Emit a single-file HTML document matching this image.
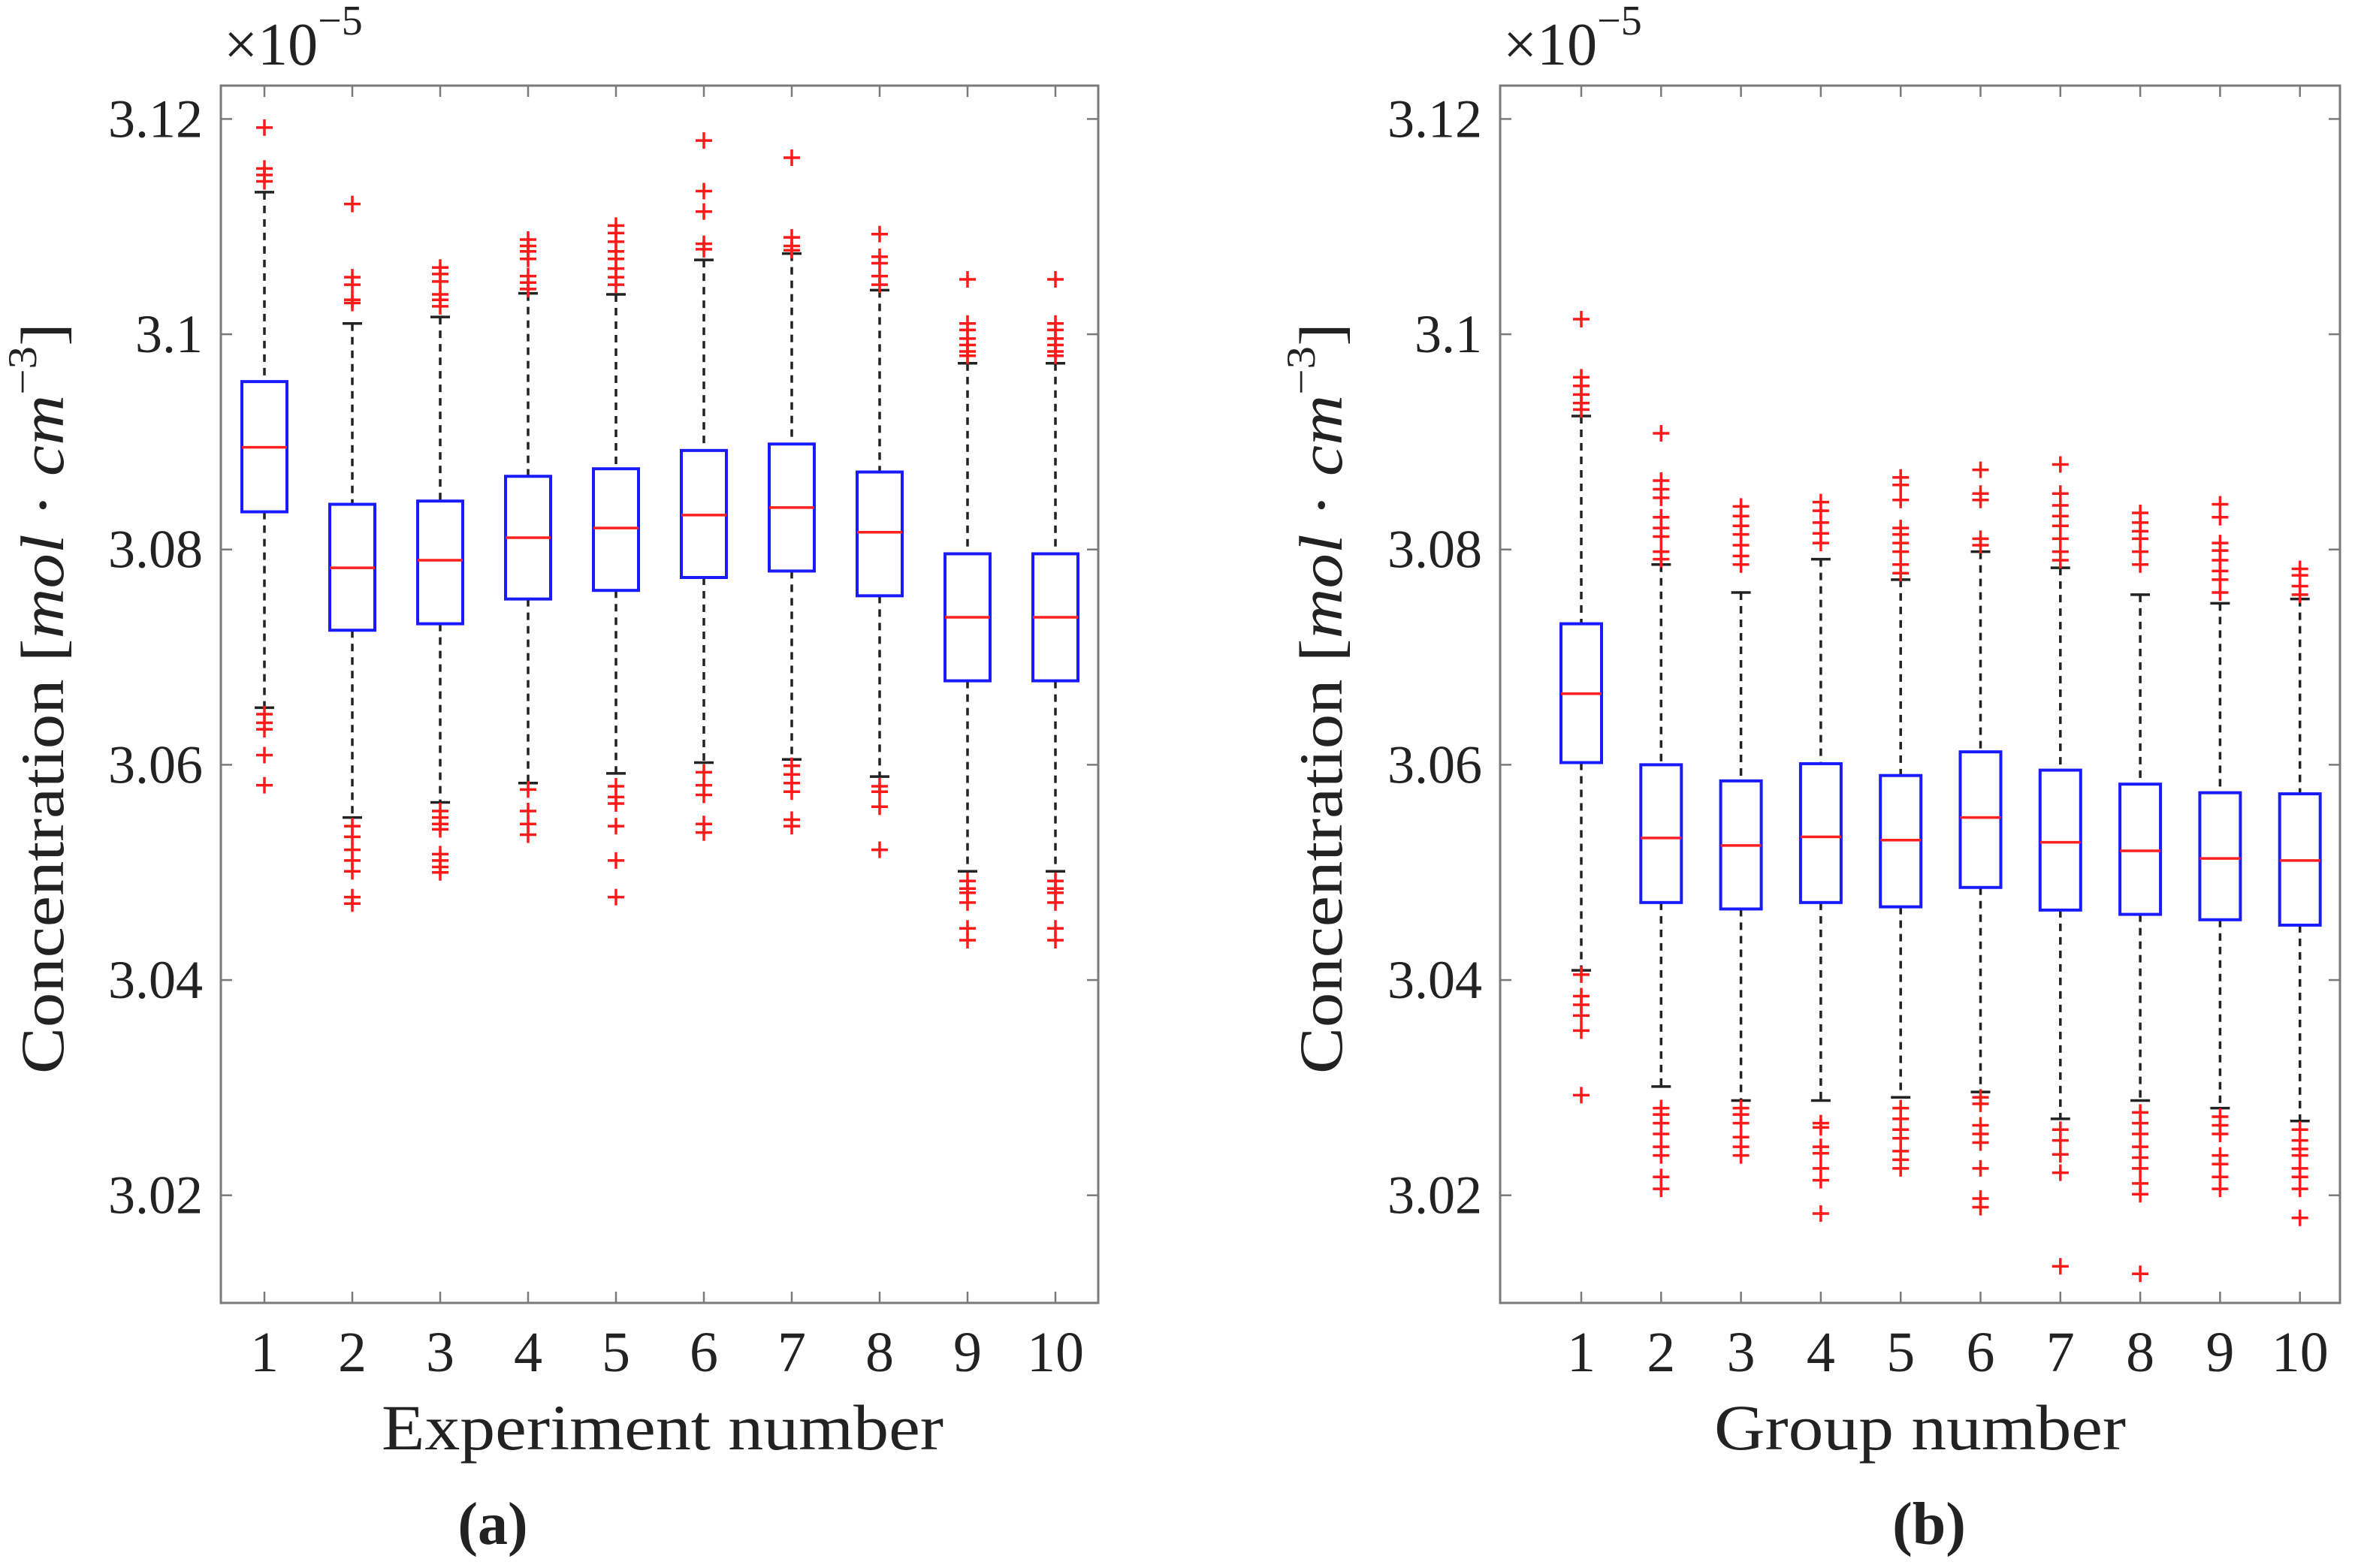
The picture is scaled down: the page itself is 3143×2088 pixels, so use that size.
<!DOCTYPE html>
<html><head><meta charset="utf-8"><style>
html,body{margin:0;padding:0;background:#fff}
svg{display:block}
text{font-family:"Liberation Serif","DejaVu Serif",serif;fill:#222}
</style></head><body>
<svg id="fig" width="3143" height="2088" viewBox="0 0 3143 2088" xmlns="http://www.w3.org/2000/svg" font-family="Liberation Serif, DejaVu Serif, serif">
<g id="pa"></g>
<g id="pb"></g>
</svg>
<script>
const categories=[1,2,3,4,5,6,7,8,9,10];
const yTicks=[3.02,3.04,3.06,3.08,3.1,3.12];
const yTickLabels=["3.02","3.04","3.06","3.08","3.1","3.12"];
// panel a (units 1e-5 mol/cm3)
const aWhiskerHigh=[3.1132,3.1010,3.1016,3.1038,3.1037,3.1069,3.1075,3.1041,3.0973,3.0973];
const aQ3=[3.0956,3.0842,3.0845,3.0868,3.0875,3.0892,3.0898,3.0872,3.0796,3.0796];
const aMedian=[3.0895,3.0783,3.0790,3.0811,3.0820,3.0832,3.0839,3.0816,3.0737,3.0737];
const aQ1=[3.0835,3.0725,3.0731,3.0754,3.0762,3.0774,3.0780,3.0757,3.0678,3.0678];
const aWhiskerLow=[3.0653,3.0551,3.0565,3.0583,3.0592,3.0602,3.0605,3.0589,3.0501,3.0501];
const aOutliers=[
[3.1192,3.1154,3.1148,3.1142,3.0647,3.0639,3.0633,3.0609,3.0581],
[3.1121,3.1053,3.1046,3.1032,3.1029,3.0543,3.0533,3.0521,3.0511,3.0501,3.0477,3.0471],
[3.1062,3.1056,3.1049,3.1037,3.1032,3.1026,3.0557,3.0551,3.0545,3.0540,3.0517,3.0511,3.0505,3.0500],
[3.1088,3.1082,3.1077,3.1070,3.1054,3.1048,3.1042,3.0577,3.0557,3.0545,3.0535],
[3.1101,3.1094,3.1086,3.1077,3.1070,3.1061,3.1053,3.1046,3.0580,3.0570,3.0564,3.0543,3.0511,3.0477],
[3.1180,3.1133,3.1114,3.1084,3.1079,3.0593,3.0581,3.0572,3.0545,3.0537],
[3.1164,3.1090,3.1082,3.1078,3.0599,3.0591,3.0583,3.0575,3.0549,3.0543],
[3.1093,3.1072,3.1066,3.1054,3.1046,3.0580,3.0575,3.0561,3.0521],
[3.1051,3.1010,3.1004,3.0996,3.0990,3.0984,3.0980,3.0492,3.0485,3.0481,3.0472,3.0448,3.0437],
[3.1051,3.1010,3.1004,3.0996,3.0990,3.0984,3.0980,3.0492,3.0485,3.0481,3.0472,3.0448,3.0437]];
// panel b
const bWhiskerHigh=[3.0924,3.0786,3.0760,3.0791,3.0772,3.0798,3.0783,3.0758,3.0750,3.0754];
const bQ3=[3.0731,3.0600,3.0585,3.0601,3.0590,3.0612,3.0595,3.0582,3.0574,3.0573];
const bMedian=[3.0666,3.0532,3.0525,3.0533,3.0530,3.0551,3.0528,3.0520,3.0513,3.0511];
const bQ1=[3.0602,3.0472,3.0466,3.0472,3.0468,3.0486,3.0465,3.0461,3.0456,3.0451];
const bWhiskerLow=[3.0409,3.0301,3.0288,3.0288,3.0291,3.0296,3.0271,3.0288,3.0281,3.0269];
const bOutliers=[
[3.1014,3.0960,3.0952,3.0944,3.0936,3.0930,3.0405,3.0385,3.0377,3.0367,3.0353,3.0293],
[3.0908,3.0864,3.0856,3.0848,3.0830,3.0820,3.0812,3.0798,3.0791,3.0281,3.0275,3.0267,3.0257,3.0245,3.0237,3.0217,3.0206],
[3.0840,3.0831,3.0822,3.0814,3.0804,3.0794,3.0786,3.0281,3.0275,3.0267,3.0254,3.0245,3.0237],
[3.0844,3.0836,3.0825,3.0815,3.0806,3.0267,3.0263,3.0245,3.0239,3.0225,3.0214,3.0183],
[3.0867,3.0860,3.0846,3.0820,3.0814,3.0806,3.0798,3.0786,3.0778,3.0281,3.0271,3.0261,3.0253,3.0241,3.0233,3.0225],
[3.0874,3.0852,3.0846,3.0810,3.0804,3.0291,3.0285,3.0265,3.0257,3.0249,3.0225,3.0197,3.0189],
[3.0879,3.0852,3.0841,3.0831,3.0822,3.0810,3.0798,3.0790,3.0261,3.0251,3.0238,3.0221,3.0134],
[3.0834,3.0825,3.0817,3.0810,3.0798,3.0786,3.0277,3.0267,3.0257,3.0245,3.0235,3.0225,3.0211,3.0201,3.0127],
[3.0842,3.0830,3.0806,3.0799,3.0790,3.0780,3.0772,3.0760,3.0273,3.0265,3.0257,3.0237,3.0229,3.0217,3.0206],
[3.0782,3.0776,3.0766,3.0758,3.0261,3.0251,3.0243,3.0237,3.0225,3.0217,3.0206,3.0179]];

const NS="http://www.w3.org/2000/svg";
function mk(parent,tag,attrs,txt){const e=document.createElementNS(NS,tag);for(const k in attrs)e.setAttribute(k,attrs[k]);if(txt!==undefined)e.textContent=txt;parent.appendChild(e);return e;}
const yMin=3.01,yMax=3.1231,plotTop=114,plotBot=1735;
function sy(v){return plotBot-(v-yMin)/(yMax-yMin)*(plotBot-plotTop);}

function panel(g,cfg,wh,q3,med,q1,wl,outs){
  const sx=i=>cfg.x1+(i-1)*cfg.step;
  const fr=mk(g,'rect',{x:cfg.L,y:plotTop,width:cfg.R-cfg.L,height:plotBot-plotTop,fill:'none',stroke:'#7a7a7a','stroke-width':3});
  
  
  yTicks.forEach((t,k)=>{
    const y=sy(t);
    mk(g,'line',{x1:cfg.L,x2:cfg.L+15,y1:y,y2:y,stroke:'#7a7a7a','stroke-width':2.5});
    mk(g,'line',{x1:cfg.R,x2:cfg.R-15,y1:y,y2:y,stroke:'#7a7a7a','stroke-width':2.5});
    const tl=mk(g,'text',{x:cfg.L-24,y:y+24,'font-size':72,'text-anchor':'end'},yTickLabels[k]);
    
    
  });
  categories.forEach((c,i)=>{
    const x=sx(c);
    mk(g,'line',{x1:x,x2:x,y1:plotBot,y2:plotBot-15,stroke:'#7a7a7a','stroke-width':2.5});
    mk(g,'line',{x1:x,x2:x,y1:plotTop,y2:plotTop+15,stroke:'#7a7a7a','stroke-width':2.5});
    const xl=mk(g,'text',{x:x,y:1826,'font-size':76,'text-anchor':'middle'},String(c));
    
    
    const bg=mk(g,'g',{});
    
    
    mk(bg,'line',{x1:x,x2:x,y1:sy(wh[i]),y2:sy(q3[i]),stroke:'#222','stroke-width':3.5,'stroke-dasharray':'10 8'});
    mk(bg,'line',{x1:x,x2:x,y1:sy(q1[i]),y2:sy(wl[i]),stroke:'#222','stroke-width':3.5,'stroke-dasharray':'10 8'});
    mk(bg,'line',{x1:x-13,x2:x+13,y1:sy(wh[i]),y2:sy(wh[i]),stroke:'#222','stroke-width':3.5});
    mk(bg,'line',{x1:x-13,x2:x+13,y1:sy(wl[i]),y2:sy(wl[i]),stroke:'#222','stroke-width':3.5});
    mk(bg,'rect',{x:x-cfg.hw,y:sy(q3[i]),width:2*cfg.hw,height:sy(q1[i])-sy(q3[i]),fill:'none',stroke:'#1a1aff','stroke-width':4});
    mk(bg,'line',{x1:x-cfg.hw,x2:x+cfg.hw,y1:sy(med[i]),y2:sy(med[i]),stroke:'#ff2020','stroke-width':3.5});
    outs[i].forEach(v=>{
      const y=sy(v);
      mk(bg,'path',{d:`M${x-11} ${y}H${x+11}M${x} ${y-11}V${y+11}`,stroke:'#ff1a1a','stroke-width':3.5,fill:'none'});
    });
  });
  const ex=mk(g,'text',{x:cfg.L+4,y:86,'font-size':80},'×10');
  
  
  mk(ex,'tspan',{'font-size':56,dy:-40},'−5');
  const yl=mk(g,'text',{transform:`translate(${cfg.ylx},930) rotate(-90)`,'font-size':82,'text-anchor':'middle',textLength:1000,lengthAdjust:'spacingAndGlyphs'});
  
  
  mk(yl,'tspan',{},'Concentration [');
  mk(yl,'tspan',{'font-style':'italic'},'mol');
  mk(yl,'tspan',{},' · ');
  mk(yl,'tspan',{'font-style':'italic'},'cm');
  mk(yl,'tspan',{'font-size':54,dy:-36},'−3');
  mk(yl,'tspan',{dy:36},']');
  const xt=mk(g,'text',{x:cfg.xlc,y:1930,'font-size':86,'text-anchor':'middle',textLength:cfg.xlw,lengthAdjust:'spacingAndGlyphs'},cfg.xlabel);
  
  
  const cap=mk(g,'text',{x:cfg.capx,y:2056,'font-size':80,'font-weight':'bold','text-anchor':'middle'},cfg.cap);
  
  
}
panel(document.getElementById('pa'),{L:294,R:1462,x1:352,step:117,hw:30,ylx:84,xlc:882,xlw:748,xlabel:'Experiment number',capx:656,cap:'(a)'},aWhiskerHigh,aQ3,aMedian,aQ1,aWhiskerLow,aOutliers);
panel(document.getElementById('pb'),{L:1997,R:3115,x1:2105,step:106.3,hw:27,ylx:1786,xlc:2556,xlw:548,xlabel:'Group number',capx:2568,cap:'(b)'},bWhiskerHigh,bQ3,bMedian,bQ1,bWhiskerLow,bOutliers);
</script>
</body></html>
